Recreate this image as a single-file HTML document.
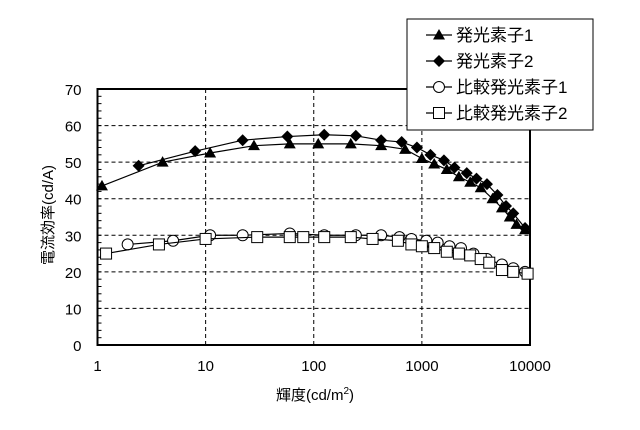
<!DOCTYPE html>
<html><head><meta charset="utf-8"><style>
body{margin:0;background:#fff;}
svg{display:block;font-family:"Liberation Sans","Noto Sans CJK JP",sans-serif;}
</style></head><body>
<svg id="chart" width="640" height="430" viewBox="0 0 640 430">
<g id="grid"></g><g id="axes"></g><g id="series"></g>
<text x="48" y="215" font-size="15" text-anchor="middle" transform="rotate(-90 48 215)" dy="5">電流効率(cd/A)</text>
<text x="315" y="400" font-size="15" text-anchor="middle">輝度(cd/m<tspan font-size="10" dy="-6">2</tspan><tspan dy="6">)</tspan></text>
<g>
<rect x="407" y="19" width="186" height="111" fill="#fff" stroke="#000" stroke-width="1"/>
<g id="legend"></g>
</g>
</svg>
<script>
const triX=[1.1,4,11,28,60,110,220,420,700,1000,1300,1700,2200,2800,3500,4500,5500,6500,7500,9000];
const triY=[43.5,50,52.5,54.5,55,55,55,54.5,53.5,51,49.5,48,46,44.5,43,40,37.5,35,33,31.5];
const diaX=[2.4,8,22,57,125,245,420,650,900,1200,1600,2000,2600,3200,4000,5000,6000,7000,9000];
const diaY=[49,53,56,57,57.5,57.2,56,55.5,54,52,50.5,48.5,47,45.5,44,41,38,36,32];
const cirX=[1.9,5,11,22,60,125,245,420,620,800,1100,1400,1800,2300,3000,4000,5500,7000,9000];
const cirY=[27.5,28.5,30,30,30.5,30,30,30,29.5,29,28.5,28,27,26.5,25,23.5,22,21,20];
const sqX=[1.2,3.7,10,30,60,80,125,220,350,600,800,1000,1300,1700,2200,2800,3500,4200,5500,7000,9500];
const sqY=[25,27.5,29,29.5,29.5,29.5,29.5,29.5,29,28.5,27.5,27,26.5,25.5,25,24.5,23.5,22.5,20.5,20,19.5];
const xTicks=[1,10,100,1000,10000];
const yTicks=[0,10,20,30,40,50,60,70];
const legendNames=["発光素子1","発光素子2","比較発光素子1","比較発光素子2"];

const L=97.5,R=530,T=89,B=345;
const xs=v=>L+(Math.log10(v))/4*(R-L);
const ys=v=>B-v/70*(B-T);
const NS="http://www.w3.org/2000/svg";
function mk(tag,attrs,parent){const e=document.createElementNS(NS,tag);for(const k in attrs)e.setAttribute(k,attrs[k]);parent.appendChild(e);return e;}
const grid=document.getElementById('grid'),axes=document.getElementById('axes'),ser=document.getElementById('series');
yTicks.forEach(v=>{
  if(v>0&&v<70){const l=mk('line',{x1:L,x2:R,y1:ys(v),y2:ys(v),stroke:'#000','stroke-dasharray':'4,3','stroke-width':1},grid);
  
  }
  const t=mk('text',{x:L-16,y:ys(v)+6,'font-size':15,'text-anchor':'end'},axes);t.textContent=v;
  
  
});
for(let v=0;v<=70;v+=2){mk('line',{x1:L,x2:L+4,y1:ys(v),y2:ys(v),stroke:'#000','stroke-width':1},axes);}
xTicks.forEach(v=>{
  if(v>1&&v<10000){const l=mk('line',{x1:xs(v),x2:xs(v),y1:T,y2:B,stroke:'#000','stroke-dasharray':'4,3','stroke-width':1},grid);
  
  }
  const t=mk('text',{x:xs(v),y:B+26,'font-size':15,'text-anchor':'middle'},axes);t.textContent=v;
  
  
});
const fr=mk('rect',{x:L,y:T,width:R-L,height:B-T,fill:'none',stroke:'#000','stroke-width':2},axes);



function marker(type,x,y,g){
  if(type==='tri')return mk('path',{d:`M${x},${y-6}L${x+6},${y+4.5}L${x-6},${y+4.5}Z`,fill:'#000'},g);
  if(type==='dia')return mk('path',{d:`M${x},${y-6}L${x+6},${y}L${x},${y+6}L${x-6},${y}Z`,fill:'#000'},g);
  if(type==='cir')return mk('circle',{cx:x,cy:y,r:5.5,fill:'#fff',stroke:'#000','stroke-width':1},g);
  return mk('rect',{x:x-5.5,y:y-5.5,width:11,height:11,fill:'#fff',stroke:'#000','stroke-width':1},g);
}
const defs=[[triX,triY,'tri','series-element-1'],[diaX,diaY,'dia','series-element-2'],[cirX,cirY,'cir','series-comparison-1'],[sqX,sqY,'sq','series-comparison-2']];
defs.forEach(([X,Y,type,name])=>{
  const g=mk('g',{},ser);
  
  
  mk('polyline',{points:X.map((x,i)=>xs(x)+','+ys(Y[i])).join(' '),fill:'none',stroke:'#000','stroke-width':1.2},g);
  X.forEach((x,i)=>{const m=marker(type,xs(x),ys(Y[i]),g);
    
    });
});
const lg=document.getElementById('legend');
legendNames.forEach((n,i)=>{
  const y=35+i*26;
  const g=mk('g',{},lg);
  
  
  mk('line',{x1:426,x2:452,y1:y,y2:y,stroke:'#000','stroke-width':1.2},g);
  marker(defs[i][2],439,y,g);
  const t=mk('text',{x:456,y:y+6,'font-size':17},g);t.textContent=n;
});
</script>
</body></html>
